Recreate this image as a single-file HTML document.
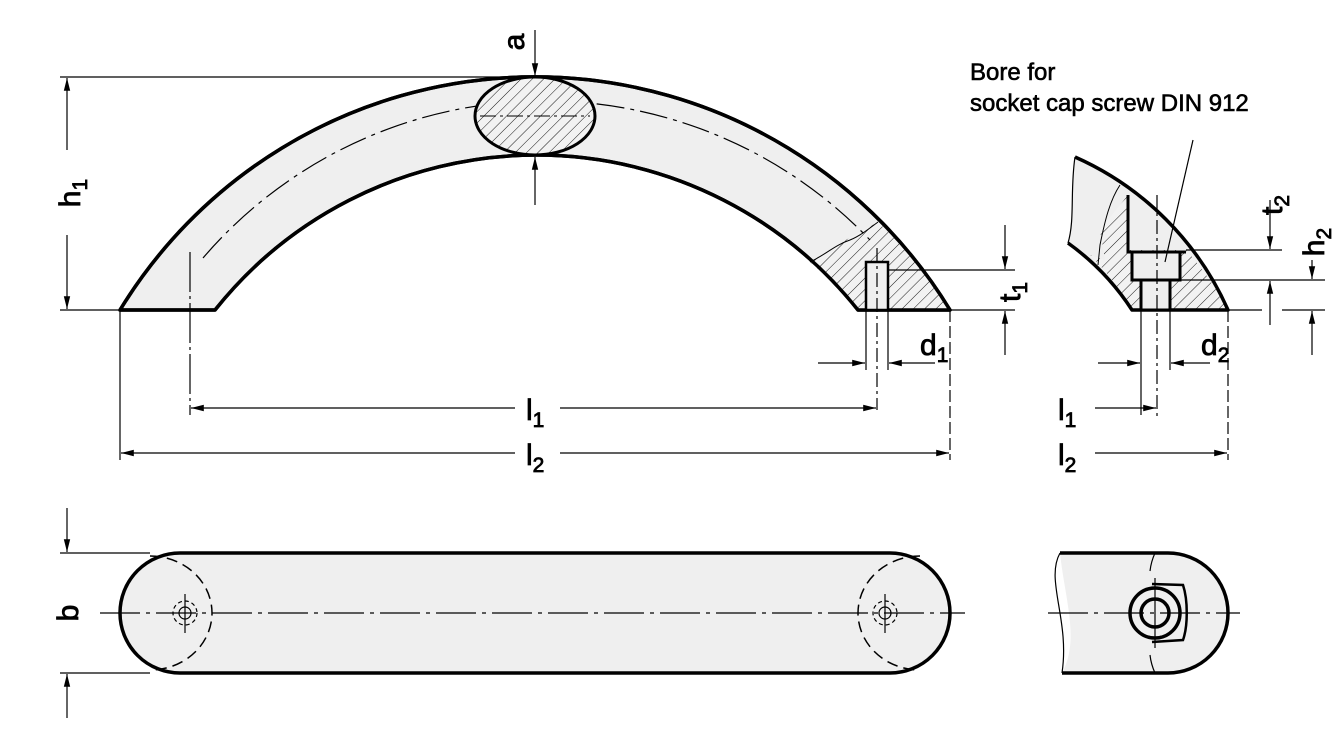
<!DOCTYPE html>
<html><head><meta charset="utf-8"><style>
html,body{margin:0;padding:0;background:#fff;}
svg{display:block;}
text{font-family:"Liberation Sans",Arial,sans-serif;font-size:30px;fill:#000;stroke:#000;stroke-width:0.8;}
.sub{font-size:21px;}
.note{font-size:24px;stroke-width:0.6;}
</style></head><body>
<svg width="1338" height="729" viewBox="0 0 1338 729" xmlns="http://www.w3.org/2000/svg">
<defs>
<pattern id="h" patternUnits="userSpaceOnUse" width="8" height="8" patternTransform="rotate(45)">
<rect width="8" height="8" fill="#f2f2f2"/><line x1="0" y1="0" x2="0" y2="8" stroke="#000" stroke-width="0.9"/>
</pattern>
<marker id="a" viewBox="0 0 16 10" refX="16" refY="5" markerWidth="16" markerHeight="8" markerUnits="userSpaceOnUse" orient="auto-start-reverse"><path d="M0,1 L16,5 L0,9 z" fill="#000"/></marker>
</defs>
<g stroke="#000" fill="none">
<path d="M120,310 A486,486 0 0 1 950,310 L858,310 A411,411 0 0 0 215,310 Z" fill="#efefef" stroke-width="3.5" stroke-linejoin="round"/>
<path d="M810,262 C830,250 845,240 860,232 L878,222 A486,486 0 0 1 950,310 L858,310 A411,411 0 0 0 810,262 Z" fill="url(#h)" stroke="none"/>
<path d="M810,262 C825,255 835,245 850,240 C860,236 870,228 878,222" stroke-width="1"/>
<path d="M120,310 A486,486 0 0 1 950,310 L858,310 A411,411 0 0 0 215,310 Z" stroke-width="3.5" stroke-linejoin="round"/>
<rect x="866" y="262" width="22" height="48" fill="#efefef" stroke-width="2.5"/>
<line x1="877" y1="248" x2="877" y2="410" stroke-width="1.2" stroke-dasharray="14,4,3,4"/>
<path d="M203,258 A450,450 0 0 1 870,240" stroke-width="1.2" stroke-dasharray="28,6,4,6"/>
<ellipse cx="535" cy="116" rx="60" ry="39" fill="url(#h)" stroke-width="3"/>
<line x1="480" y1="116" x2="590" y2="116" stroke-width="1" stroke-dasharray="16,4,3,4"/>
<line x1="535" y1="30" x2="535" y2="76" stroke-width="1.2" marker-end="url(#a)"/>
<line x1="535" y1="205" x2="535" y2="157" stroke-width="1.2" marker-end="url(#a)"/>
<g stroke-width="1.2">
<line x1="60" y1="77" x2="535" y2="77"/>
<line x1="60" y1="310" x2="120" y2="310"/>
<line x1="67" y1="150" x2="67" y2="78" marker-end="url(#a)"/>
<line x1="67" y1="235" x2="67" y2="309" marker-end="url(#a)"/>
<line x1="190" y1="252" x2="190" y2="415" stroke-dasharray="40,4,3,4"/>
<line x1="120" y1="310" x2="120" y2="460"/>
<line x1="950" y1="310" x2="950" y2="460" stroke-dasharray="12,4"/>
<line x1="866" y1="310" x2="866" y2="370"/>
<line x1="888" y1="310" x2="888" y2="370"/>
<line x1="515" y1="408" x2="191" y2="408" marker-end="url(#a)"/>
<line x1="560" y1="408" x2="876" y2="408" marker-end="url(#a)"/>
<line x1="515" y1="453" x2="121" y2="453" marker-end="url(#a)"/>
<line x1="560" y1="453" x2="949" y2="453" marker-end="url(#a)"/>
<line x1="818" y1="363" x2="865" y2="363" marker-end="url(#a)"/>
<line x1="935" y1="363" x2="889" y2="363" marker-end="url(#a)"/>
<line x1="888" y1="270" x2="1015" y2="270"/>
<line x1="950" y1="310" x2="1015" y2="310"/>
<line x1="1005" y1="225" x2="1005" y2="269" marker-end="url(#a)"/>
<line x1="1005" y1="355" x2="1005" y2="311" marker-end="url(#a)"/>
</g>
<path d="M1075,157 A300,300 0 0 1 1228,310 L1132,310 A250,250 0 0 0 1068,243 C1075,220 1070,190 1075,157 Z" fill="#efefef" stroke="none"/>
<path d="M1128,195 L1100,230 L1105,260 L1090,255 A250,250 0 0 1 1132,310 L1228,310 A300,300 0 0 0 1186,250 L1128,250 Z" fill="url(#h)" stroke="none"/>
<path d="M1120,185 C1110,200 1105,220 1100,245 L1098,265" stroke-width="1"/>
<path d="M1075,157 C1070,190 1075,220 1068,243" stroke-width="1.2"/>
<path d="M1075,157 A300,300 0 0 1 1228,310 L1132,310 A250,250 0 0 0 1068,243" stroke-width="3.5" stroke-linejoin="round"/>
<path d="M1128,195 L1128,252 L1186,252" stroke-width="3"/>
<rect x="1132" y="252" width="48" height="28" fill="#efefef" stroke-width="3"/>
<rect x="1141" y="280" width="29" height="30" fill="#efefef" stroke-width="3"/>
<line x1="1157" y1="195" x2="1157" y2="420" stroke-width="1.2" stroke-dasharray="14,4,3,4"/>
<line x1="1193" y1="140" x2="1165" y2="262" stroke-width="1.2"/>
<g stroke-width="1.2">
<line x1="1186" y1="250" x2="1282" y2="250"/>
<line x1="1180" y1="280" x2="1325" y2="280"/>
<line x1="1228" y1="310" x2="1262" y2="310"/>
<line x1="1282" y1="310" x2="1325" y2="310"/>
<line x1="1270" y1="200" x2="1270" y2="249" marker-end="url(#a)"/>
<line x1="1270" y1="325" x2="1270" y2="281" marker-end="url(#a)"/>
<line x1="1312" y1="260" x2="1312" y2="279" marker-end="url(#a)"/>
<line x1="1312" y1="355" x2="1312" y2="311" marker-end="url(#a)"/>
<line x1="1141" y1="310" x2="1141" y2="415"/>
<line x1="1170" y1="310" x2="1170" y2="370"/>
<line x1="1228" y1="310" x2="1228" y2="460" stroke-dasharray="12,4"/>
<line x1="1098" y1="363" x2="1140" y2="363" marker-end="url(#a)"/>
<line x1="1210" y1="363" x2="1171" y2="363" marker-end="url(#a)"/>
<line x1="1095" y1="408" x2="1156" y2="408" marker-end="url(#a)"/>
<line x1="1095" y1="453" x2="1227" y2="453" marker-end="url(#a)"/>
</g>
<rect x="120" y="553" width="830" height="120" rx="60" ry="60" fill="#efefef" stroke-width="3.5"/>
<g stroke-width="1.2">
<line x1="100" y1="613" x2="965" y2="613" stroke-dasharray="40,6,4,6"/>
<path d="M150,556 A62,57 0 0 1 150,670" stroke-dasharray="11,6" stroke-width="1.5"/>
<path d="M920,556 A62,57 0 0 0 920,670" stroke-dasharray="11,6" stroke-width="1.5"/>
<circle cx="185" cy="613" r="12" stroke-dasharray="4,3"/>
<circle cx="185" cy="613" r="6"/>
<line x1="185" y1="594" x2="185" y2="633"/>
<circle cx="885" cy="613" r="12" stroke-dasharray="4,3"/>
<circle cx="885" cy="613" r="6"/>
<line x1="885" y1="594" x2="885" y2="633"/>
<line x1="60" y1="553" x2="150" y2="553"/>
<line x1="60" y1="673" x2="150" y2="673"/>
<line x1="67" y1="508" x2="67" y2="552" marker-end="url(#a)"/>
<line x1="67" y1="718" x2="67" y2="674" marker-end="url(#a)"/>
</g>
<path d="M1060,553 L1168,553 A60,60 0 0 1 1168,673 L1062,673 C1080,640 1065,600 1060,553 Z" fill="#efefef" stroke="none"/>
<path d="M1060,553 L1168,553 A60,60 0 0 1 1168,673 L1062,673" stroke-width="3.5"/>
<path d="M1060,553 C1045,580 1070,620 1062,673" stroke-width="1.2"/>
<line x1="1048" y1="613" x2="1240" y2="613" stroke-width="1.2" stroke-dasharray="40,6,4,6"/>
<path d="M1152,584 L1183,585 C1188,600 1188,626 1183,640 L1152,642" stroke-width="2.5"/>
<circle cx="1155" cy="613" r="25" stroke-width="3.5"/>
<circle cx="1155" cy="613" r="14" stroke-width="3.5"/>
<line x1="1155" y1="578" x2="1155" y2="648" stroke-width="1.2"/>
<path d="M1150,571 A60,60 0 0 1 1155,553" stroke-width="1.2"/>
<path d="M1150,655 A60,60 0 0 0 1155,673" stroke-width="1.2"/>
</g>
<text x="0" y="0" transform="translate(524,42) rotate(-90)" text-anchor="middle">a</text>
<text x="0" y="0" transform="translate(80,193) rotate(-90)" text-anchor="middle">h<tspan class="sub" dy="7">1</tspan></text>
<text x="0" y="0" transform="translate(78,613) rotate(-90)" text-anchor="middle">b</text>
<text x="526" y="420">l<tspan class="sub" dy="7">1</tspan></text>
<text x="526" y="465">l<tspan class="sub" dy="7">2</tspan></text>
<text x="920" y="355">d<tspan class="sub" dy="7">1</tspan></text>
<text x="1201" y="355">d<tspan class="sub" dy="7">2</tspan></text>
<text x="1058" y="420">l<tspan class="sub" dy="7">1</tspan></text>
<text x="1058" y="465">l<tspan class="sub" dy="7">2</tspan></text>
<text x="0" y="0" transform="translate(1020,292) rotate(-90)" text-anchor="middle">t<tspan class="sub" dy="7">1</tspan></text>
<text x="0" y="0" transform="translate(1282,205) rotate(-90)" text-anchor="middle">t<tspan class="sub" dy="7">2</tspan></text>
<text x="0" y="0" transform="translate(1324,242) rotate(-90)" text-anchor="middle">h<tspan class="sub" dy="7">2</tspan></text>
<text x="970" y="80" class="note">Bore for</text>
<text x="970" y="111" class="note">socket cap screw DIN 912</text>
</svg>
</body></html>
